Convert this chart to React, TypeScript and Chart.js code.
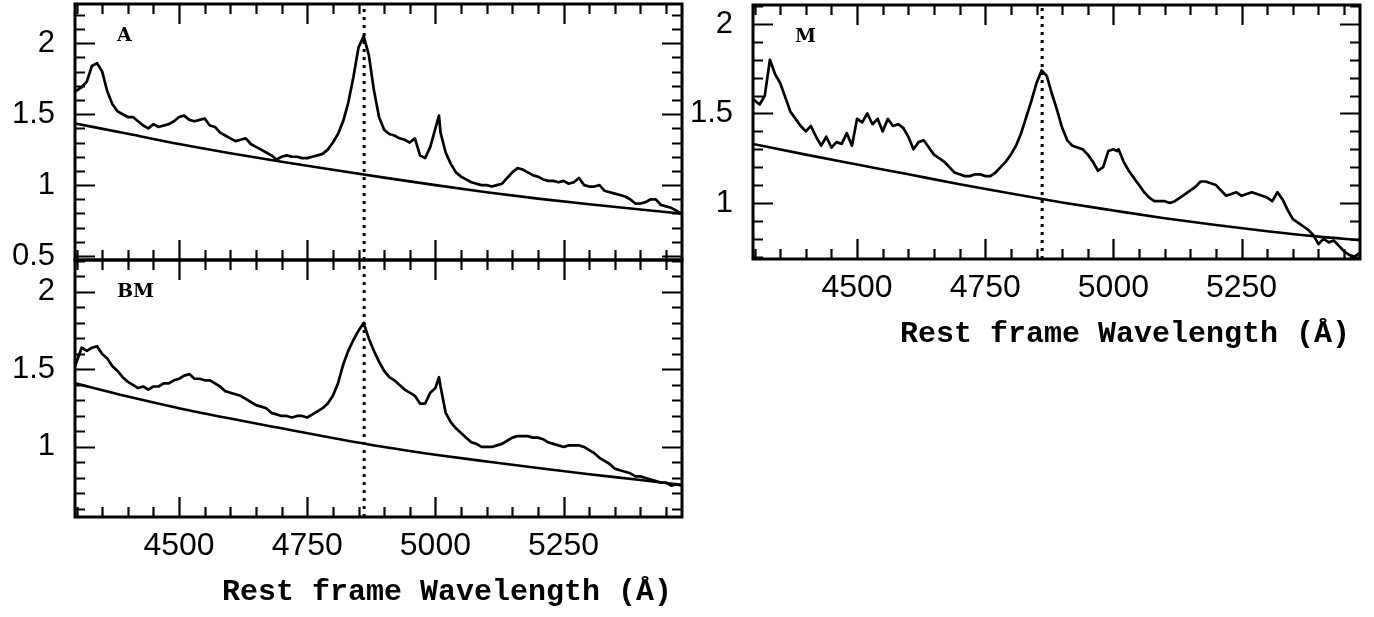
import React, { useEffect, useRef } from "react";
import { Chart, registerables } from "chart.js";

Chart.register(...registerables);

// ---------- data ----------
const wavelengths = [
  4297, 4310, 4320, 4330, 4340, 4350, 4360, 4370, 4380, 4390,
  4400, 4410, 4420, 4430, 4440, 4450, 4460, 4470, 4480, 4490,
  4500, 4510, 4520, 4530, 4540, 4550, 4560, 4570, 4580, 4590,
  4600, 4610, 4620, 4630, 4640, 4650, 4660, 4670, 4680, 4690,
  4700, 4710, 4720, 4730, 4740, 4750, 4760, 4770, 4780, 4790,
  4800, 4810, 4820, 4830, 4840, 4850, 4860, 4870, 4880, 4890,
  4900, 4910, 4920, 4930, 4940, 4950, 4960, 4970, 4980, 4990,
  5000, 5007, 5010, 5020, 5030, 5040, 5050, 5060, 5070, 5080,
  5090, 5100, 5110, 5120, 5130, 5140, 5150, 5160, 5170, 5180,
  5190, 5200, 5210, 5220, 5230, 5240, 5250, 5260, 5270, 5280,
  5290, 5300, 5310, 5320, 5330, 5340, 5350, 5360, 5370, 5380,
  5390, 5400, 5410, 5420, 5430, 5440, 5450, 5460, 5470, 5480,
];

const fluxA = [
  1.66, 1.69, 1.73, 1.84, 1.86, 1.80, 1.66, 1.57, 1.52, 1.50,
  1.48, 1.48, 1.45, 1.42, 1.40, 1.43, 1.41, 1.42, 1.43, 1.45,
  1.48, 1.49, 1.46, 1.45, 1.46, 1.47, 1.42, 1.41, 1.37, 1.35,
  1.33, 1.31, 1.32, 1.33, 1.29, 1.27, 1.25, 1.23, 1.21, 1.18,
  1.20, 1.21, 1.20, 1.20, 1.19, 1.19, 1.20, 1.21, 1.22, 1.25,
  1.30, 1.36, 1.45, 1.58, 1.76, 1.97, 2.05, 1.92, 1.67, 1.48,
  1.39, 1.36, 1.35, 1.33, 1.32, 1.30, 1.33, 1.21, 1.19, 1.27,
  1.40, 1.49, 1.37, 1.23, 1.15, 1.09, 1.06, 1.04, 1.02, 1.01,
  1.00, 1.00, 0.99, 1.00, 1.01, 1.05, 1.09, 1.12, 1.11, 1.09,
  1.07, 1.06, 1.04, 1.03, 1.03, 1.02, 1.03, 1.01, 1.02, 1.05,
  1.00, 0.99, 0.99, 1.00, 0.96, 0.95, 0.94, 0.93, 0.92, 0.90,
  0.87, 0.87, 0.88, 0.90, 0.90, 0.86, 0.85, 0.84, 0.82, 0.80,
];

const fluxBM = [
  1.52, 1.64, 1.62, 1.64, 1.65, 1.60, 1.57, 1.52, 1.49, 1.45,
  1.42, 1.40, 1.38, 1.39, 1.37, 1.39, 1.39, 1.41, 1.41, 1.43,
  1.44, 1.46, 1.47, 1.44, 1.44, 1.43, 1.43, 1.41, 1.39, 1.36,
  1.35, 1.34, 1.33, 1.31, 1.29, 1.27, 1.26, 1.25, 1.22, 1.21,
  1.20, 1.20, 1.19, 1.20, 1.20, 1.19, 1.21, 1.23, 1.25, 1.28,
  1.33, 1.41, 1.53, 1.62, 1.69, 1.75, 1.80, 1.70, 1.62, 1.55,
  1.49, 1.45, 1.43, 1.40, 1.37, 1.35, 1.33, 1.28, 1.28, 1.35,
  1.38, 1.45, 1.39, 1.22, 1.16, 1.12, 1.09, 1.06, 1.03, 1.02,
  1.00, 1.00, 1.00, 1.01, 1.02, 1.04, 1.06, 1.07, 1.07, 1.07,
  1.06, 1.06, 1.05, 1.03, 1.02, 1.01, 1.00, 1.01, 1.01, 1.01,
  1.00, 0.98, 0.96, 0.93, 0.91, 0.89, 0.86, 0.85, 0.84, 0.83,
  0.81, 0.81, 0.80, 0.79, 0.78, 0.77, 0.77, 0.75, 0.76, 0.75,
];

const fluxM = [
  1.58, 1.55, 1.60, 1.80, 1.72, 1.67, 1.59, 1.51, 1.47, 1.43,
  1.40, 1.43, 1.37, 1.32, 1.37, 1.31, 1.34, 1.33, 1.39, 1.32,
  1.47, 1.45, 1.50, 1.44, 1.47, 1.40, 1.47, 1.43, 1.44, 1.42,
  1.37, 1.30, 1.34, 1.35, 1.31, 1.27, 1.25, 1.23, 1.20, 1.17,
  1.16, 1.15, 1.15, 1.16, 1.16, 1.15, 1.15, 1.17, 1.20, 1.23,
  1.27, 1.32, 1.39, 1.48, 1.57, 1.67, 1.74, 1.71, 1.61, 1.52,
  1.42, 1.35, 1.32, 1.31, 1.30, 1.27, 1.23, 1.18, 1.20, 1.29,
  1.30, 1.29, 1.30, 1.23, 1.18, 1.14, 1.10, 1.06, 1.03, 1.01,
  1.01, 1.01, 1.00, 1.01, 1.03, 1.05, 1.07, 1.09, 1.12, 1.12,
  1.11, 1.10, 1.07, 1.04, 1.05, 1.06, 1.04, 1.05, 1.06, 1.05,
  1.04, 1.03, 1.01, 1.06, 1.02, 0.96, 0.91, 0.89, 0.87, 0.85,
  0.82, 0.77, 0.80, 0.78, 0.79, 0.76, 0.73, 0.71, 0.70, 0.72,
];

const contWave = [4297, 4400, 4500, 4600, 4700, 4800, 4900, 5000, 5100, 5200, 5300, 5400, 5480];
const contA = [1.435, 1.362, 1.290, 1.225, 1.165, 1.108, 1.053, 1.000, 0.950, 0.905, 0.865, 0.828, 0.800];
const contBM = [1.410, 1.325, 1.250, 1.183, 1.120, 1.058, 1.000, 0.950, 0.906, 0.864, 0.824, 0.787, 0.755];
const contM = [1.330, 1.270, 1.215, 1.160, 1.105, 1.053, 1.003, 0.958, 0.915, 0.877, 0.842, 0.812, 0.793];

const hBeta = 4861;
const xMin = 4297;
const xMax = 5481;
const xTickValues = [4500, 4750, 5000, 5250];
const xTickLabels = ["4500", "4750", "5000", "5250"];
const yTicksA = [0.5, 1, 1.5, 2];
const yLabelsA = ["0.5", "1", "1.5", "2"];
const yTicksB = [1, 1.5, 2];
const yLabelsB = ["1", "1.5", "2"];
const panelNames = ["A", "BM", "M"];
const axisTitle = "Rest frame Wavelength (\u00C5)";

const tickFont = '"Liberation Sans", Arial, sans-serif';

type Cfg = {
  name: string;
  flux: number[];
  cont: number[];
  yMin: number;
  yMax: number;
  yTicks: number[];
  yLabels: string[];
  left: number;
  top: number;
  width: number;
  height: number;
  padTop: number;
  padRight: number;
  padBottom: number;
  yAxisWidth: number;
  xAxisHeight: number;
  showX: boolean;
  title: string;
};

const panels: Cfg[] = [
  {
    name: panelNames[0], flux: fluxA, cont: contA, yMin: 0.472, yMax: 2.277,
    yTicks: yTicksA, yLabels: yLabelsA,
    left: 0, top: 0, width: 700, height: 280, padTop: 4, padRight: 18, padBottom: 20,
    yAxisWidth: 75, xAxisHeight: 0, showX: false, title: "",
  },
  {
    name: panelNames[1], flux: fluxBM, cont: contBM, yMin: 0.548, yMax: 2.206,
    yTicks: yTicksB, yLabels: yLabelsB,
    left: 0, top: 240, width: 700, height: 377, padTop: 20, padRight: 18, padBottom: 0,
    yAxisWidth: 75, xAxisHeight: 100, showX: true, title: axisTitle,
  },
  {
    name: panelNames[2], flux: fluxM, cont: contM, yMin: 0.687, yMax: 2.106,
    yTicks: yTicksB, yLabels: yLabelsB,
    left: 690, top: 0, width: 684, height: 360, padTop: 5, padRight: 14, padBottom: 0,
    yAxisWidth: 63, xAxisHeight: 101, showX: true, title: axisTitle,
  },
];

function Panel({ cfg }: { cfg: Cfg }) {
  const ref = useRef<HTMLCanvasElement>(null);

  useEffect(() => {
    const canvas = ref.current;
    if (!canvas) return;

    const framePlugin = {
      id: "frame",
      afterDatasetsDraw(chart: any) {
        const { ctx, chartArea } = chart;
        const { left, right, top, bottom } = chartArea;
        const xs = chart.scales.x;
        const ys = chart.scales.y;
        ctx.save();
        ctx.strokeStyle = "#000";
        ctx.lineWidth = 2.2;
        ctx.lineCap = "butt";
        ctx.beginPath();
        for (let k = Math.ceil(xs.min / 50); k * 50 <= xs.max; k++) {
          const v = k * 50;
          const px = Math.round(xs.getPixelForValue(v)) + 0.5;
          const len = v % 250 === 0 ? 20 : 10;
          ctx.moveTo(px, bottom);
          ctx.lineTo(px, bottom - len);
          ctx.moveTo(px, top);
          ctx.lineTo(px, top + len);
        }
        for (let k = Math.ceil(ys.min * 10 - 1e-6); k <= Math.floor(ys.max * 10 + 1e-6); k++) {
          const py = Math.round(ys.getPixelForValue(k / 10)) + 0.5;
          const len = k % 5 === 0 ? 20 : 10;
          ctx.moveTo(left, py);
          ctx.lineTo(left + len, py);
          ctx.moveTo(right, py);
          ctx.lineTo(right - len, py);
        }
        ctx.stroke();
        ctx.lineWidth = 3;
        ctx.strokeRect(left, top, right - left, bottom - top);

        ctx.fillStyle = "#000";
        ctx.textBaseline = "middle";
        ctx.textAlign = "left";
        ctx.font = 'bold 19px "DejaVu Serif", serif';
        ctx.fillText(cfg.name, left + 42, top + 32);

        if (cfg.title) {
          ctx.font = 'bold 30px "Liberation Mono", monospace';
          ctx.textAlign = "right";
          ctx.fillText(cfg.title, right - 10, bottom + 75);
        }
        ctx.restore();
      },
    };

    const chart = new Chart(canvas, {
      type: "line",
      data: {
        datasets: [
          {
            data: wavelengths.map((x, i) => ({ x, y: cfg.flux[i] })),
            borderColor: "#000",
            borderWidth: 2.7,
            pointRadius: 0,
            tension: 0,
            borderJoinStyle: "round",
          },
          {
            data: contWave.map((x, i) => ({ x, y: cfg.cont[i] })),
            borderColor: "#000",
            borderWidth: 2.6,
            pointRadius: 0,
            cubicInterpolationMode: "monotone",
          },
          {
            data: [
              { x: hBeta, y: cfg.yMin },
              { x: hBeta, y: cfg.yMax },
            ],
            borderColor: "#000",
            borderWidth: 3,
            borderDash: [3, 5],
            pointRadius: 0,
          },
        ],
      } as any,
      options: {
        responsive: false,
        animation: false,
        events: [],
        layout: {
          padding: { left: 0, top: cfg.padTop, right: cfg.padRight, bottom: cfg.padBottom },
        },
        plugins: {
          legend: { display: false },
          tooltip: { enabled: false },
        },
        scales: {
          x: {
            type: "linear",
            min: xMin,
            max: xMax,
            display: cfg.showX,
            position: "bottom",
            grid: { display: false, drawTicks: false },
            border: { display: false },
            afterBuildTicks: (s: any) => {
              s.ticks = xTickValues.map((v) => ({ value: v }));
            },
            afterFit: (s: any) => {
              s.height = cfg.xAxisHeight;
              s.paddingLeft = 0;
              s.paddingRight = 0;
            },
            ticks: {
              padding: 10,
              color: "#000",
              autoSkip: false,
              maxRotation: 0,
              minRotation: 0,
              font: { family: tickFont, size: 32 },
              callback: (v: any) => xTickLabels[xTickValues.indexOf(Number(v))] ?? "",
            },
          },
          y: {
            type: "linear",
            min: cfg.yMin,
            max: cfg.yMax,
            position: "left",
            grid: { display: false, drawTicks: false },
            border: { display: false },
            afterBuildTicks: (s: any) => {
              s.ticks = cfg.yTicks.map((v) => ({ value: v }));
            },
            afterFit: (s: any) => {
              s.width = cfg.yAxisWidth;
              s.paddingTop = 0;
              s.paddingBottom = 0;
            },
            ticks: {
              padding: 20,
              color: "#000",
              autoSkip: false,
              font: { family: tickFont, size: 31 },
              callback: (v: any) => cfg.yLabels[cfg.yTicks.indexOf(Number(v))] ?? "",
            },
          },
        },
      } as any,
      plugins: [framePlugin],
    });

    return () => chart.destroy();
  }, [cfg]);

  return (
    <canvas
      ref={ref}
      width={cfg.width}
      height={cfg.height}
      style={{ position: "absolute", left: cfg.left, top: cfg.top, width: cfg.width, height: cfg.height }}
    />
  );
}

export default function App() {
  return (
    <div
      style={{
        position: "fixed",
        left: 0,
        top: 0,
        width: 1374,
        height: 617,
        background: "#fff",
        overflow: "hidden",
      }}
    >
      {panels.map((p) => (
        <Panel key={p.name} cfg={p} />
      ))}
    </div>
  );
}
